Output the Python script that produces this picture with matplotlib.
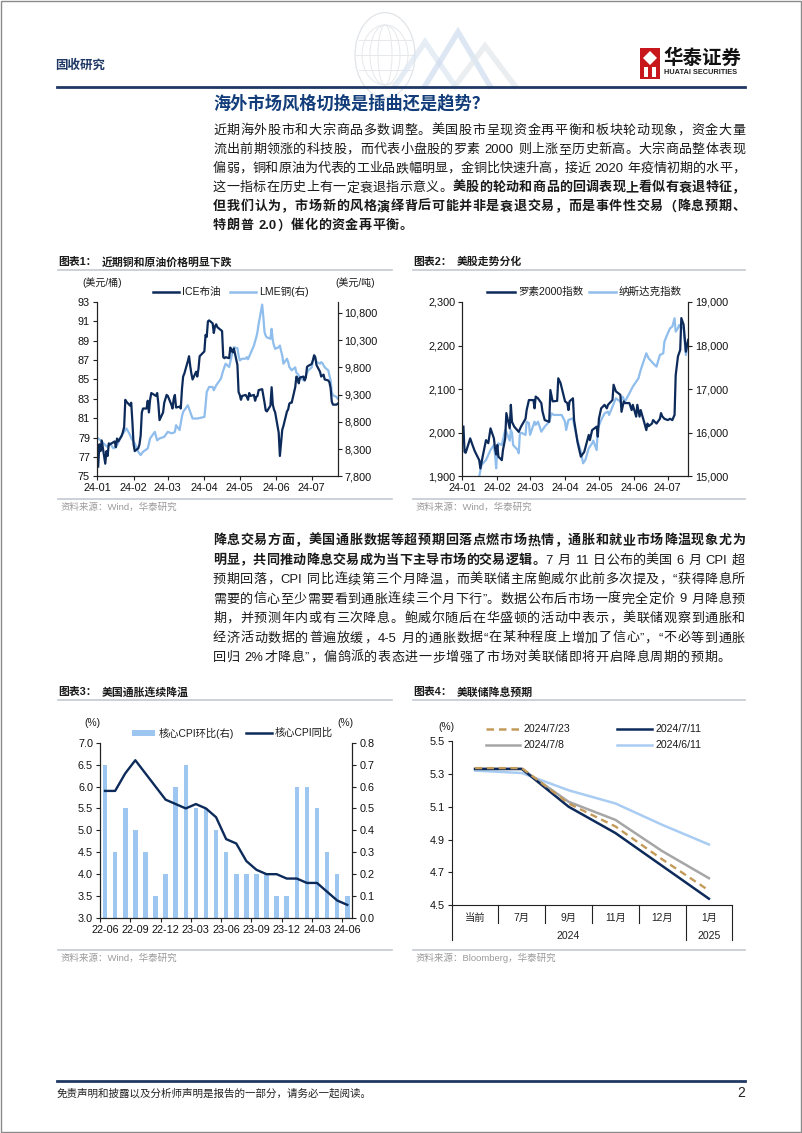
import re
import matplotlib
matplotlib.use('Agg')
import matplotlib.pyplot as plt
from matplotlib.lines import Line2D
from matplotlib.patches import Rectangle, Polygon, Circle, Ellipse
import numpy as np
import pandas as pd

plt.rcParams['font.family'] = ['Liberation Sans', 'Noto Sans CJK SC']

# ---------------- data ----------------
month_ticks = ['2024-01-01', '2024-02-01', '2024-03-01', '2024-04-01', '2024-05-01', '2024-06-01', '2024-07-01']
month_labels = ['24-01', '24-02', '24-03', '24-04', '24-05', '24-06', '24-07']

# chart 1: ICE brent (USD/bbl) and LME copper (USD/t, right axis)
brent_dates = (
    ['01-%s' % d for d in ['02', '03', '04', '05', '08', '09', '10', '11', '12', '16', '17', '18', '19', '22', '23', '24', '25', '26', '29', '30', '31']]
    + ['02-%s' % d for d in ['01', '02', '05', '06', '07', '08', '09', '12', '13', '14', '15', '16', '20', '21', '22', '23', '26', '27', '28', '29']]
    + ['03-%s' % d for d in ['01', '04', '05', '06', '07', '08', '11', '12', '13', '14', '15', '18', '19', '20', '21', '22', '25', '26', '27', '28']]
    + ['04-%s' % d for d in ['01', '02', '03', '04', '05', '08', '09', '10', '11', '12', '15', '16', '17', '18', '19', '22', '23', '24', '25', '26', '29', '30']]
    + ['05-%s' % d for d in ['01', '02', '03', '06', '07', '08', '09', '10', '13', '14', '15', '16', '17', '20', '21', '22', '23', '24', '27', '28', '29', '30', '31']]
    + ['06-%s' % d for d in ['03', '04', '05', '06', '07', '10', '11', '12', '13', '14', '17', '18', '19', '20', '21', '24', '25', '26', '27', '28']]
    + ['07-%s' % d for d in ['01', '02', '03', '04', '05', '08', '09', '10', '11', '12', '15', '16', '17', '18', '19', '22', '23']]
)
brent = [
    76.0, 78.3, 77.6, 78.7, 76.3, 77.6, 77.1, 78.4, 78.3, 78.6, 78.0, 78.9, 78.6, 79.2, 79.6, 80.1, 82.9, 82.7, 82.3, 82.6, 80.6,
    78.3, 77.6, 77.9, 78.3, 79.2, 81.6, 82.0, 82.0, 82.8, 81.6, 82.9, 83.6, 83.3, 83.6, 82.5, 80.8, 81.6, 82.6, 83.0, 83.4,
    83.3, 82.4, 82.0, 83.0, 83.4, 82.1, 82.2, 82.0, 84.0, 85.3, 85.6, 86.9, 87.4, 86.4, 85.6, 85.0, 85.8, 85.3, 86.1, 87.4,
    87.9, 89.6, 89.4, 91.0, 91.1, 90.8, 89.8, 90.5, 90.7, 90.4, 90.1, 90.0, 87.3, 87.2, 87.3, 87.2, 88.3, 88.0, 87.8, 88.2, 86.5, 83.7,
    83.4, 82.9, 83.3, 83.4, 83.2, 82.9, 83.6, 83.3, 83.4, 82.8, 83.2, 83.3, 83.9, 84.0, 83.3, 82.6, 81.8, 81.7, 82.3, 84.2, 82.4, 81.9, 81.6,
    79.5, 77.1, 78.4, 79.8, 80.2, 81.7, 81.9, 82.5, 82.6, 82.6, 84.2, 85.3, 85.1, 84.6, 85.2, 85.3, 84.9, 85.2, 86.3, 86.4,
    86.6, 87.0, 87.5, 87.3, 86.5, 85.8, 85.3, 85.4, 85.5, 85.0, 84.9, 84.7, 84.1, 82.7, 82.4, 82.4, 82.5,
]
copper_dates = (
    ['01-%s' % d for d in ['02', '04', '08', '10', '12', '15', '18', '22', '24', '26', '29', '30']]
    + ['02-%s' % d for d in ['02', '05', '07', '09', '13', '15', '19', '21', '23', '27']]
    + ['03-%s' % d for d in ['01', '04', '06', '07', '08', '11', '13', '14', '18', '20', '22', '26', '28']]
    + ['04-%s' % d for d in ['01', '02', '03', '05', '08', '09', '11', '12', '15', '17', '19', '22', '24', '25', '26', '29', '30']]
    + ['05-%s' % d for d in ['01', '03', '06', '07', '08', '10', '13', '14', '15', '16', '17', '20', '21', '22', '23', '24', '27', '28', '29', '30', '31']]
    + ['06-%s' % d for d in ['03', '04', '05', '06', '07', '10', '11', '12', '13', '14', '17', '18', '19', '20', '21', '24', '25', '26', '27', '28']]
    + ['07-%s' % d for d in ['01', '02', '03', '04', '05', '08', '09', '10', '11', '12', '15', '16', '17', '18', '19', '22', '23']]
)
copper = [
    8495, 8460, 8372, 8340, 8400, 8312, 8370, 8555, 8616, 8678, 8560, 8500,
    8403, 8250, 8190, 8250, 8312, 8495, 8616, 8460, 8495, 8525,
    8616, 8590, 8600, 8616, 8738, 8650, 8900, 8982, 9104, 8982, 8861, 8861, 8870,
    8890, 9100, 9348, 9440, 9440, 9380, 9470, 9500, 9592, 9745, 9867, 9806, 10000, 10080, 10170, 10150, 10020,
    9927, 9958, 9960, 9988, 9950, 10050, 10200, 10280, 10353, 10450, 10598, 10952, 10720, 10445, 10380, 10350, 10325, 10507, 10290, 10200, 10140,
    10170, 10200, 10100, 10020, 9867, 9958, 9900, 9805, 9780, 9745, 9800, 9700, 9684, 9650, 9623, 9562, 9600, 9650, 9700, 9745,
    9800, 9927, 9958, 9958, 9900, 9867, 9896, 9880, 9837, 9800, 9745, 9650, 9562, 9348, 9287, 9257, 9226,
]

# chart 2: Russell 2000 (left) and Nasdaq (right)
russell_dates = (
    ['01-%s' % d for d in ['02', '03', '04', '08', '10', '12', '16', '17', '19', '22', '24', '26', '29', '30', '31']]
    + ['02-%s' % d for d in ['01', '02', '05', '06', '08', '09', '12', '13', '14', '16', '20', '22', '26', '27', '29']]
    + ['03-%s' % d for d in ['04', '05', '06', '08', '11', '12', '14', '18', '19', '21', '25', '26', '28']]
    + ['04-%s' % d for d in ['01', '03', '04', '05', '08', '09', '12', '15', '18', '22', '23', '25', '29', '30']]
    + ['05-%s' % d for d in ['01', '03', '06', '08', '09', '13', '14', '16', '20', '21', '23', '24', '28', '30', '31']]
    + ['06-%s' % d for d in ['03', '04', '06', '07', '10', '12', '13', '14', '17', '18', '21', '24', '25', '26', '28']]
    + ['07-%s' % d for d in ['01', '03', '05', '07', '08', '10', '12', '13', '15', '17', '19']]
)
russell = [
    2014, 1956, 1954, 1987, 1972, 1958, 1937, 1918, 1945, 1983, 1976, 2010, 1987, 1964, 1950,
    1972, 1945, 1937, 1960, 1987, 2045, 2010, 2064, 2025, 2014, 2002, 2014, 2032, 2052, 2075,
    2075, 2056, 2083, 2079, 2068, 2049, 2029, 2025, 2098, 2072, 2073, 2125, 2114,
    2072, 2068, 2052, 2072, 2079, 2029, 1979, 1945, 1956, 1995, 1983, 2006, 2014, 1991,
    2032, 2056, 2064, 2056, 2064, 2075, 2110, 2095, 2087, 2048, 2072, 2068, 2068, 2052, 2064,
    2037, 2064, 2037, 2052, 2025, 2006, 2021, 2015, 2021, 2029, 2021, 2032, 2045, 2038, 2032,
    2029, 2032, 2029, 2041, 2132, 2175, 2190, 2263, 2248, 2186, 2213,
]
nasdaq_dates = (
    ['01-%s' % d for d in ['16', '18', '22', '24', '26', '29', '30', '31']]
    + ['02-%s' % d for d in ['01', '02', '05', '08', '09', '12', '13', '14', '15', '19', '20', '21', '22', '23', '26', '27', '29']]
    + ['03-%s' % d for d in ['01', '05', '06', '08', '11', '14', '18', '20', '22', '26', '29']]
    + ['04-%s' % d for d in ['01', '02', '04', '08', '09', '12', '15', '17', '19', '22', '25', '26', '29', '30']]
    + ['05-%s' % d for d in ['03', '06', '09', '10', '13', '16', '20', '22', '24', '28', '31']]
    + ['06-%s' % d for d in ['03', '05', '07', '10', '12', '14', '18', '21', '24', '27', '28']]
    + ['07-%s' % d for d in ['01', '03', '05', '07', '08', '10', '11', '12', '15', '17', '19']]
)
nasdaq = [
    15000, 15260, 15375, 15490, 15605, 15720, 15500, 15183,
    15605, 15757, 15720, 16063, 16020, 15818, 16063, 16000, 15718, 15605, 15530, 15987, 16000, 15990, 15950, 16253, 16220,
    15950, 16253, 16180, 16253, 16024, 16140, 16253, 16445, 16408, 16408, 16408,
    16253, 16063, 16292, 16330, 16180, 15833, 15565, 15298, 15375, 15643, 15757, 15818, 15603, 16100,
    16292, 16445, 16484, 16408, 16598, 16790, 16713, 16828, 16713, 16905, 17056,
    17171, 17247, 17440, 17670, 17823, 17708, 17593, 17516, 17784, 17823, 18090,
    18282, 18397, 18435, 18626, 18320, 18397, 18473, 18435, 18397, 17784, 18090,
]

# chart 3: core CPI
cpi_months = ['22-06', '22-07', '22-08', '22-09', '22-10', '22-11', '22-12', '23-01', '23-02', '23-03', '23-04', '23-05',
              '23-06', '23-07', '23-08', '23-09', '23-10', '23-11', '23-12', '24-01', '24-02', '24-03', '24-04', '24-05', '24-06']
core_mom = [0.7, 0.3, 0.5, 0.4, 0.3, 0.1, 0.2, 0.6, 0.7, 0.5, 0.5, 0.4, 0.3, 0.2, 0.2, 0.2, 0.2, 0.1, 0.1, 0.6, 0.6, 0.5, 0.3, 0.2, 0.1]
core_yoy = [5.9, 5.9, 6.3, 6.6, 6.3, 6.0, 5.7, 5.6, 5.5, 5.6, 5.5, 5.3, 4.8, 4.7, 4.3, 4.1, 4.0, 4.0, 3.9, 3.9, 3.8, 3.8, 3.6, 3.4, 3.3]

# chart 4: fed funds expectations
fed_cats = ['当前', '7月', '9月', '11月', '12月', '1月']
fed_0723 = [5.335, 5.335, 5.12, 4.98, 4.78, 4.59]
fed_0711 = [5.33, 5.33, 5.10, 4.94, 4.74, 4.54]
fed_0708 = [5.33, 5.33, 5.13, 5.02, 4.83, 4.665]
fed_0611 = [5.32, 5.305, 5.20, 5.12, 4.99, 4.87]

# ---------------- page ----------------
W, H = 802, 1133
NAVY = '#0C2A5A'
LIGHT = '#8FBDEC'
BAR = '#9DC6F0'
TEXT = '#1a1a1a'
GREY_LINE = '#C3C9D2'

fig = plt.figure(figsize=(W / 100, H / 100), dpi=100)
renderer = fig.canvas.get_renderer()


def fx(x):
    return x / W


def fy(y):
    return 1 - y / H


def hline(x0, x1, y, color, lw, alpha=1.0):
    fig.add_artist(Line2D([fx(x0), fx(x1)], [fy(y), fy(y)], color=color, lw=lw, alpha=alpha))


def add_ax(l, t, r, b):
    return fig.add_axes([fx(l), fy(b), (r - l) / W, (b - t) / H])


def text_line(y, segs, x0=213, x1=745, size=9.4, justify=True):
    toks = []
    for s, bold in segs:
        for tok in re.findall(r'[A-Za-z0-9.%\-/]+|\s+|.', s):
            toks.append((tok, bold))
    arts, widths = [], []
    for tok, bold in toks:
        if tok.isspace():
            arts.append(None)
            widths.append(size * 0.3 * 100 / 72)
        else:
            t = fig.text(fx(x0), fy(y), tok, fontsize=size, color=TEXT,
                         fontweight='bold' if bold else 'normal', va='center', ha='left')
            arts.append(t)
            widths.append(t.get_window_extent(renderer).width)
    gap = (x1 - x0 - sum(widths)) / (len(toks) - 1) if justify else 0.6
    x = x0
    for a, w in zip(arts, widths):
        if a is not None:
            a.set_x(fx(x))
        x += w + gap


def chart_title(x0, x1, y, num, title):
    fig.text(fx(x0), fy(y), '图表%d：' % num, fontsize=7.8, fontweight='bold', color=TEXT, va='center')
    fig.text(fx(x0 + 44), fy(y), title, fontsize=7.8, fontweight='bold', color=TEXT, va='center')
    hline(x0, x1, y + 7.5, GREY_LINE, 1.2)


def source(x0, x1, y, txt):
    hline(x0, x1, y - 8, GREY_LINE, 1.2)
    fig.text(fx(x0 + 3), fy(y), txt, fontsize=6.8, color='#9a9a9a', va='center')


def legend_line(x0, x1, y, color, label, ls='-', lw=1.8, size=7.6):
    fig.add_artist(Line2D([fx(x0), fx(x1)], [fy(y), fy(y)], color=color, lw=lw, ls=ls))
    fig.text(fx(x1 + 3), fy(y), label, fontsize=size, color=TEXT, va='center')


def style(ax, right=True):
    ax.spines['top'].set_visible(False)
    if not right:
        ax.spines['right'].set_visible(False)
    for s in ax.spines.values():
        s.set_linewidth(0.8)
        s.set_color('#222222')
    ax.tick_params(labelsize=7.8, length=3, width=0.8, colors='#222222', pad=2)
    ax.tick_params(axis='both', labelcolor='#111111')


# page border
fig.add_artist(Rectangle((0.0008, 0.0006), 0.998, 0.9985, fill=False, ec='#8a8a8a', lw=1.0))

# header decoration (faint globe + chevrons)
globe_c = (385, 55)
fig.add_artist(Circle((fx(globe_c[0]), fy(globe_c[1])), 30 / W, transform=fig.transFigure, fill=False,
                      ec='#E1E4E8', lw=0.9))
for wdt in [14, 30, 46]:
    fig.add_artist(Ellipse((fx(globe_c[0]), fy(globe_c[1])), wdt / W, 60 / H, fill=False, ec='#E6E8EC', lw=0.7))
for dy in [-15, 0, 15]:
    half = np.sqrt(30 ** 2 - dy ** 2)
    hline(globe_c[0] - half, globe_c[0] + half, globe_c[1] + dy, '#E6E8EC', 0.7)
for pts, col in [([(395, 86), (425, 42), (455, 86)], '#DCE6F2'),
                 ([(425, 86), (458, 32), (490, 86)], '#CFDDEF'),
                 ([(455, 86), (485, 46), (515, 86)], '#E3E7EC')]:
    xs, ys = zip(*pts)
    fig.add_artist(Line2D([fx(v) for v in xs], [fy(v) for v in ys], color=col, lw=4, alpha=0.7,
                          solid_joinstyle='miter'))

fig.text(fx(55), fy(66), '固收研究', fontsize=9, fontweight='bold', color='#1F3864', va='center')
# logo
fig.add_artist(Rectangle((fx(640), fy(79)), 20 / W, 31 / H, fc='#C8161D', ec='none'))
fig.add_artist(Polygon([(fx(650), fy(51)), (fx(657), fy(58)), (fx(650), fy(65)), (fx(643), fy(58))], fc='white', ec='none'))
fig.add_artist(Rectangle((fx(644), fy(77)), 4 / W, 10 / H, fc='white', ec='none'))
fig.add_artist(Rectangle((fx(652), fy(77)), 4 / W, 10 / H, fc='white', ec='none'))
fig.text(fx(663), fy(58), '华泰证券', fontsize=14, fontweight='bold', color='#111111', va='center')
fig.text(fx(663.5), fy(73), 'HUATAI SECURITIES', fontsize=5.3, fontweight='bold', color='#222222', va='center')
hline(57, 745, 87, '#1F3864', 2.0)

# title + paragraph 1
fig.text(fx(213), fy(103), '海外市场风格切换是插曲还是趋势？', fontsize=12.4, fontweight='bold', color='#123D7A', va='center')
text_line(131, [('近期海外股市和大宗商品多数调整。美国股市呈现资金再平衡和板块轮动现象，资金大量', False)])
text_line(150, [('流出前期领涨的科技股，而代表小盘股的罗素 2000 则上涨至历史新高。大宗商品整体表现', False)])
text_line(169, [('偏弱，铜和原油为代表的工业品跌幅明显，金铜比快速升高，接近 2020 年疫情初期的水平，', False)])
text_line(188, [('这一指标在历史上有一定衰退指示意义。', False), ('美股的轮动和商品的回调表现上看似有衰退特征，', True)])
text_line(207, [('但我们认为，市场新的风格演绎背后可能并非是衰退交易，而是事件性交易（降息预期、', True)])
text_line(226, [('特朗普 2.0）催化的资金再平衡。', True)], justify=False)

# paragraph 2
p2 = 541
text_line(p2, [('降息交易方面，美国通胀数据等超预期回落点燃市场热情，通胀和就业市场降温现象尤为', True)])
text_line(p2 + 19.5, [('明显，共同推动降息交易成为当下主导市场的交易逻辑。', True), ('7 月 11 日公布的美国 6 月 CPI 超', False)])
text_line(p2 + 39, [('预期回落，CPI 同比连续第三个月降温，而美联储主席鲍威尔此前多次提及，“获得降息所', False)])
text_line(p2 + 58.5, [('需要的信心至少需要看到通胀连续三个月下行”。数据公布后市场一度完全定价 9 月降息预', False)])
text_line(p2 + 78, [('期，并预测年内或有三次降息。鲍威尔随后在华盛顿的活动中表示，美联储观察到通胀和', False)])
text_line(p2 + 97.5, [('经济活动数据的普遍放缓，4-5 月的通胀数据“在某种程度上增加了信心”，“不必等到通胀', False)])
text_line(p2 + 117, [('回归 2%才降息”，偏鸽派的表态进一步增强了市场对美联储即将开启降息周期的预期。', False)], justify=False)

# ---------------- chart 1 ----------------
chart_title(58, 392, 262, 1, '近期铜和原油价格明显下跌')
ax1 = add_ax(97, 302, 337.7, 476.3)
ax1r = ax1.twinx()
ax1.plot(pd.to_datetime(['2024-' + d for d in brent_dates]), brent, color=NAVY, lw=1.6)
ax1r.plot(pd.to_datetime(['2024-' + d for d in copper_dates]), copper, color=LIGHT, lw=1.6)
ax1.set_zorder(ax1r.get_zorder() + 1)
ax1.patch.set_visible(False)
ax1.set_ylim(75, 93)
ax1.set_yticks(np.arange(75, 94, 2))
ax1r.set_ylim(7800, 11000)
ax1r.set_yticks(np.arange(7800, 10801, 500))
ax1r.set_yticklabels(['{:,.0f}'.format(v) for v in np.arange(7800, 10801, 500)])
ax1.set_xlim(pd.Timestamp('2024-01-01'), pd.Timestamp('2024-07-23'))
ax1.set_xticks(pd.to_datetime(month_ticks))
ax1.set_xticklabels(month_labels)
for a in (ax1, ax1r):
    style(a)
ax1r.spines['top'].set_visible(False)
fig.text(fx(102), fy(283), '(美元/桶)', fontsize=7.2, color=TEXT, ha='center', va='center')
fig.text(fx(355), fy(283), '(美元/吨)', fontsize=7.2, color=TEXT, ha='center', va='center')
legend_line(153, 179, 292, NAVY, 'ICE布油')
legend_line(230, 256, 292, LIGHT, 'LME铜(右)')
source(58, 392, 507.5, '资料来源：Wind，华泰研究')

# ---------------- chart 2 ----------------
chart_title(413, 745, 262, 2, '美股走势分化')
ax2 = add_ax(462.3, 302, 688.3, 476.3)
ax2r = ax2.twinx()
ax2.plot(pd.to_datetime(['2024-' + d for d in russell_dates]), russell, color=NAVY, lw=1.6)
ax2r.plot(pd.to_datetime(['2024-' + d for d in nasdaq_dates]), nasdaq, color=LIGHT, lw=1.6)
ax2.set_zorder(ax2r.get_zorder() + 1)
ax2.patch.set_visible(False)
ax2.set_ylim(1900, 2300)
ax2.set_yticks(np.arange(1900, 2301, 100))
ax2.set_yticklabels(['{:,.0f}'.format(v) for v in np.arange(1900, 2301, 100)])
ax2r.set_ylim(15000, 19000)
ax2r.set_yticks(np.arange(15000, 19001, 1000))
ax2r.set_yticklabels(['{:,.0f}'.format(v) for v in np.arange(15000, 19001, 1000)])
ax2.set_xlim(pd.Timestamp('2024-01-01'), pd.Timestamp('2024-07-19 04:00'))
ax2.set_xticks(pd.to_datetime(month_ticks))
ax2.set_xticklabels(month_labels)
for a in (ax2, ax2r):
    style(a)
ax2r.spines['top'].set_visible(False)
legend_line(487, 515, 292, NAVY, '罗素2000指数')
legend_line(589, 616, 292, LIGHT, '纳斯达克指数')
source(413, 745, 507.5, '资料来源：Wind，华泰研究')

# ---------------- chart 3 ----------------
chart_title(58, 392, 692.5, 3, '美国通胀连续降温')
ax3 = add_ax(100, 742.7, 352.3, 918)
ax3r = ax3.twinx()
xi = np.arange(len(cpi_months))
ax3r.bar(xi, core_mom, width=0.45, color=BAR, zorder=2)
ax3.plot(xi, core_yoy, color=NAVY, lw=1.7)
ax3.set_zorder(ax3r.get_zorder() + 1)
ax3.patch.set_visible(False)
ax3.set_ylim(3, 7)
ax3.set_yticks(np.arange(3, 7.01, 0.5))
ax3.set_yticklabels(['%.1f' % v for v in np.arange(3, 7.01, 0.5)])
ax3r.set_ylim(0, 0.8)
ax3r.set_yticks(np.arange(0, 0.81, 0.1))
ax3r.set_yticklabels(['%.1f' % v for v in np.arange(0, 0.81, 0.1)])
ax3.set_xlim(-0.5, len(cpi_months) - 0.5)
for a in (ax3, ax3r):
    style(a)
ax3r.spines['top'].set_visible(False)
ax3.set_xticks(xi[::3])
ax3.set_xticklabels(cpi_months[::3])
ax3.set_xticks(xi[::3] - 0.5, minor=True)
ax3.tick_params(axis='x', which='major', length=0, pad=5)
ax3.tick_params(axis='x', which='minor', length=3, width=0.8, colors='#222222')
fig.text(fx(92), fy(723), '(%)', fontsize=7.4, color=TEXT, ha='center', va='center')
fig.text(fx(345), fy(723), '(%)', fontsize=7.4, color=TEXT, ha='center', va='center')
fig.add_artist(Rectangle((fx(132), fy(735.5)), 23 / W, 5.5 / H, fc=BAR, ec='none'))
fig.text(fx(158.5), fy(733), '核心CPI环比(右)', fontsize=7.4, color=TEXT, va='center')
legend_line(246, 271.5, 733, NAVY, '核心CPI同比', size=7.4)
source(58, 392, 958, '资料来源：Wind，华泰研究')

# ---------------- chart 4 ----------------
chart_title(413, 745, 692.5, 4, '美联储降息预期')
ax4 = add_ax(451.7, 741, 732.3, 905.3)
xc = np.arange(len(fed_cats))
ax4.plot(xc, fed_0611, color='#A9CCF2', lw=1.8)
ax4.plot(xc, fed_0708, color='#A6A6A6', lw=1.8)
ax4.plot(xc, fed_0711, color=NAVY, lw=1.8)
ax4.plot(xc, fed_0723, color='#C49B5A', lw=1.7, ls=(0, (3, 2)))
ax4.set_ylim(4.5, 5.5)
ax4.set_yticks(np.arange(4.5, 5.51, 0.2))
ax4.set_yticklabels(['%.1f' % v for v in np.arange(4.5, 5.51, 0.2)])
ax4.set_xlim(-0.5, len(fed_cats) - 0.5)
style(ax4, right=False)
ax4.set_xticks([])
tr = ax4.get_xaxis_transform()
for i, c in enumerate(fed_cats):
    ax4.text(i, -0.08, c, transform=tr, fontsize=7.4, color='#222222', ha='center', va='center')
for b in [0.5, 1.5, 2.5, 3.5]:
    ax4.plot([b, b], [0, -0.108], transform=tr, color='#222222', lw=0.8, clip_on=False)
for b in [-0.5, 4.5, 5.5]:
    ax4.plot([b, b], [0, -0.212], transform=tr, color='#222222', lw=0.8, clip_on=False)
ax4.text(2.0, -0.185, '2024', transform=tr, fontsize=7.6, color='#222222', ha='center', va='center')
ax4.text(5.0, -0.185, '2025', transform=tr, fontsize=7.6, color='#222222', ha='center', va='center')
fig.text(fx(446), fy(727), '(%)', fontsize=7.4, color=TEXT, ha='center', va='center')
legend_line(486, 520, 729, '#C49B5A', '2024/7/23', ls=(0, (3, 2)))
legend_line(617, 652, 729, NAVY, '2024/7/11')
legend_line(486, 520, 745, '#A6A6A6', '2024/7/8')
legend_line(617, 652, 745, '#A9CCF2', '2024/6/11')
source(413, 745, 958, '资料来源：Bloomberg，华泰研究')

# footer
hline(57, 745, 1081, '#1F3864', 2.0)
fig.text(fx(57), fy(1093), '免责声明和披露以及分析师声明是报告的一部分，请务必一起阅读。', fontsize=7.6,
         color='#222222', va='center', style='italic')
fig.text(fx(745), fy(1093), '2', fontsize=10, color='#222222', va='center', ha='right')

fig.savefig('out.png', dpi=100)
